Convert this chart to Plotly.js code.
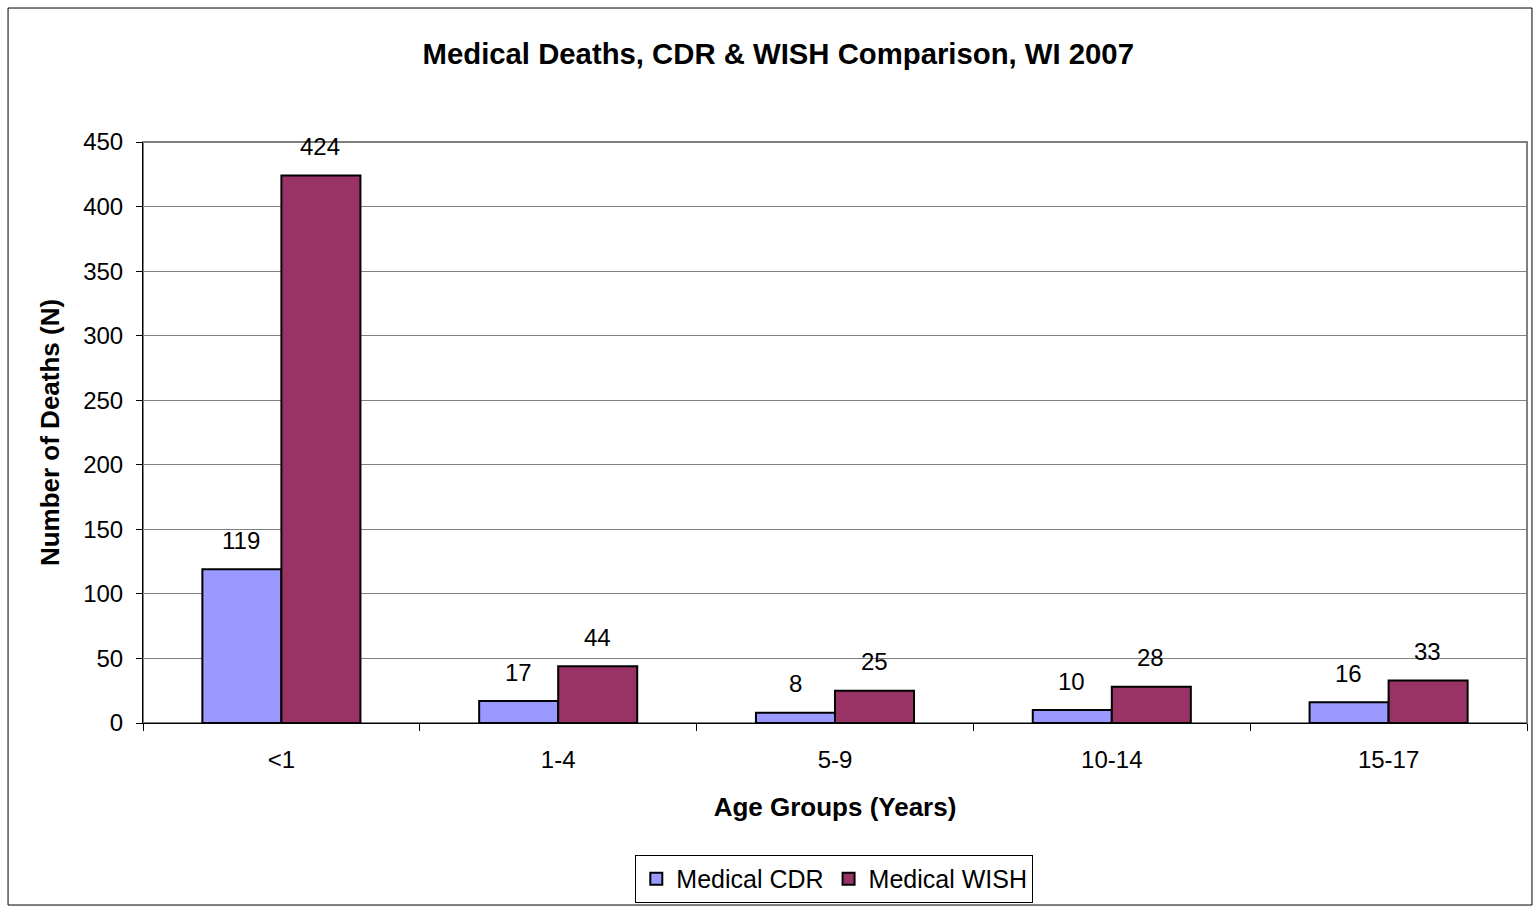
<!DOCTYPE html>
<html>
<head>
<meta charset="utf-8">
<script src="https://cdn.plot.ly/plotly-3.0.1.min.js"></script>
<style>
html,body{margin:0;padding:0;background:#fff;overflow:hidden;}
#chart{width:1533px;height:906px;}
</style>
</head>
<body>
<div id="chart"></div>
<script>
var categories = ["<1", "1-4", "5-9", "10-14", "15-17"];
var cdrValues = [119, 17, 8, 10, 16];
var wishValues = [424, 44, 25, 28, 33];
var seriesNames = ["Medical CDR", "Medical WISH"];
var yTicks = [0, 50, 100, 150, 200, 250, 300, 350, 400, 450];

var FONT = "Liberation Sans, Arial, sans-serif";

var traces = [
  {type: "bar", name: seriesNames[0], x: categories, y: cdrValues,
   marker: {color: "#9999FF", line: {color: "#000000", width: 2}}, hoverinfo: "y"},
  {type: "bar", name: seriesNames[1], x: categories, y: wishValues,
   marker: {color: "#993366", line: {color: "#000000", width: 2}}, hoverinfo: "y"}
];

var annotations = [];
[cdrValues, wishValues].forEach(function (vals, s) {
  vals.forEach(function (v, i) {
    annotations.push({
      x: categories[i], y: v, xref: "x", yref: "y",
      text: String(v), showarrow: false,
      xshift: s === 0 ? -40 : 39, yshift: 29, yanchor: "middle",
      font: {family: FONT, size: 24, color: "#000"}
    });
  });
});

var layout = {
  width: 1533, height: 906,
  margin: {l: 143, r: 6, t: 142, b: 183, pad: 0, autoexpand: false},
  paper_bgcolor: "#ffffff", plot_bgcolor: "#ffffff",
  font: {family: FONT, size: 24, color: "#000"},
  title: {text: "<b>Medical Deaths, CDR & WISH Comparison, WI 2007</b>",
          font: {family: FONT, size: 29.3, color: "#000"},
          x: 0.459, xref: "paper", xanchor: "center", y: 0.941, yanchor: "middle"},
  barmode: "group", bargap: 0.429, bargroupgap: 0,
  xaxis: {
    type: "category", tickson: "boundaries", ticks: "outside", ticklen: 7,
    tickcolor: "#000", tickwidth: 1, showline: true, linecolor: "#000", linewidth: 1,
    showgrid: false, zeroline: false, tickfont: {family: FONT, size: 24},
    ticklabelstandoff: 15, automargin: false,
    title: {text: "<b>Age Groups (Years)</b>", font: {family: FONT, size: 26}, standoff: 26},
    fixedrange: true
  },
  yaxis: {
    range: [0, 450], tickvals: yTicks, ticks: "outside", ticklen: 6, tickcolor: "#000",
    showline: true, linecolor: "#000", linewidth: 1,
    showgrid: true, gridcolor: "#808080", gridwidth: 1, zeroline: false,
    tickfont: {family: FONT, size: 24}, ticklabelstandoff: 8, automargin: false,
    title: {text: "<b>Number of Deaths (N)</b>", font: {family: FONT, size: 26}, standoff: 16},
    fixedrange: true
  },
  legend: {
    orientation: "h", x: 0.4995, xanchor: "center", y: -0.227, yanchor: "top",
    bordercolor: "#000", borderwidth: 1, bgcolor: "#fff",
    font: {family: FONT, size: 25}, itemwidth: 30, tracegroupgap: 0
  },
  showlegend: true,
  annotations: annotations,
  shapes: [
    {type: "rect", xref: "paper", yref: "paper", x0: 0, x1: 1, y0: 0, y1: 1,
     line: {color: "#808080", width: 2}, layer: "below"},
    {type: "rect", xref: "paper", yref: "paper", x0: -0.0975, x1: 1.0036, y0: -0.3133, y1: 1.2306,
     line: {color: "#000", width: 1}, layer: "below"}
  ]
};

Plotly.newPlot("chart", traces, layout, {displayModeBar: false, staticPlot: true});
</script>
</body>
</html>
